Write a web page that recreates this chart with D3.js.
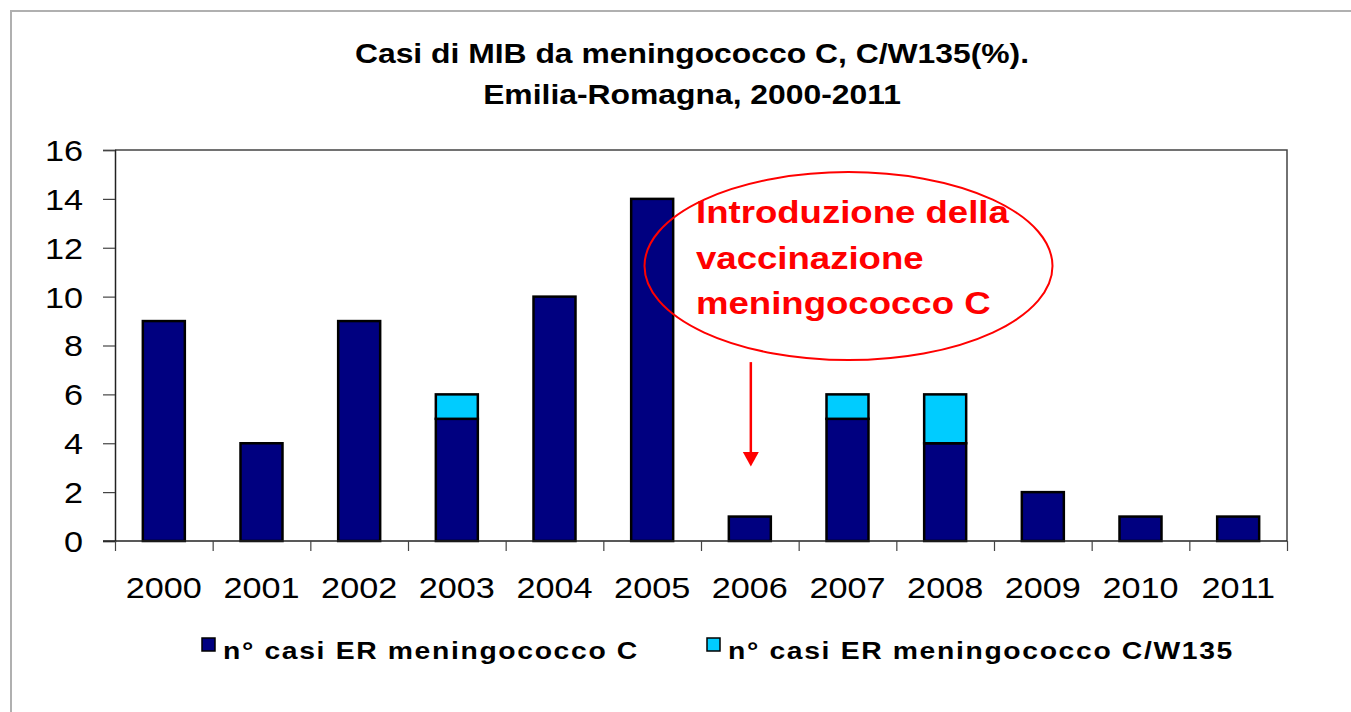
<!DOCTYPE html>
<html>
<head>
<meta charset="utf-8">
<script src="https://cdn.jsdelivr.net/npm/d3@7"></script>
<style>
  body { margin: 0; background: #fff; }
  text { font-family: "Liberation Sans", Arial, sans-serif; fill: #000; }
</style>
</head>
<body>
<div id="chart"></div>
<script>
// Casi di MIB da meningococco C, Emilia-Romagna 2000-2011

const years = ["2000", "2001", "2002", "2003", "2004", "2005", "2006", "2007", "2008", "2009", "2010", "2011"];
const casiC = [9, 4, 9, 5, 10, 14, 1, 5, 4, 2, 1, 1];
const casiCW135 = [0, 0, 0, 1, 0, 0, 0, 1, 2, 0, 0, 0];
const yTicks = [0, 2, 4, 6, 8, 10, 12, 14, 16];
const seriesNames = ["n° casi ER meningococco C", "n° casi ER meningococco C/W135"];
const titleLines = ["Casi di MIB da meningococco C, C/W135(%).", "Emilia-Romagna, 2000-2011"];
const noteLines = ["Introduzione della", "vaccinazione", "meningococco C"];

const W = 1351, H = 712;
const plot = { left: 115, right: 1287, top: 150, bottom: 541 };
const sx = 1.18; // fonts in the original are stretched horizontally
const colors = ["#000080", "#00CCFF"];

const svg = d3.select("#chart").append("svg")
    .attr("width", W)
    .attr("height", H);

// outer frame (only left and top edges visible)
svg.append("path")
    .attr("d", `M11,${H}V11H${W}`)
    .attr("fill", "none")
    .attr("stroke", "#b0b0b0")
    .attr("stroke-width", 2);

// scales
const x = d3.scaleBand()
    .domain(years)
    .range([plot.left, plot.right])
    .paddingInner(0.57)
    .paddingOuter(0.285);

const xEdge = d3.scaleLinear()
    .domain([0, years.length])
    .range([plot.left, plot.right]);

const y = d3.scaleLinear()
    .domain([0, 16])
    .range([plot.bottom, plot.top]);

// plot frame
svg.append("path")
    .attr("d", `M${plot.left},${plot.top}H${plot.right}V${plot.bottom}`)
    .attr("fill", "none")
    .attr("stroke", "#444")
    .attr("stroke-width", 1.5);

// stacked data
const stacked = years.map((yr, i) => ({
    year: yr,
    parts: [
        { y0: 0, y1: casiC[i], s: 0 },
        { y0: casiC[i], y1: casiC[i] + casiCW135[i], s: 1 }
    ].filter(p => p.y1 > p.y0)
}));

const barG = svg.append("g");
stacked.forEach(d => {
    barG.selectAll(null)
        .data(d.parts)
        .join("rect")
        .attr("x", x(d.year))
        .attr("y", p => y(p.y1))
        .attr("width", x.bandwidth())
        .attr("height", p => y(p.y0) - y(p.y1))
        .attr("fill", p => colors[p.s])
        .attr("stroke", "#000")
        .attr("stroke-width", 2.5);
});

// y axis
const yAxis = svg.append("g")
    .attr("transform", `translate(${plot.left},0)`)
    .call(d3.axisLeft(y).tickValues(yTicks).tickSize(12).tickFormat(d3.format("d")));
yAxis.select(".domain").attr("stroke", "#222").attr("stroke-width", 1.5);
yAxis.selectAll(".tick line").attr("stroke", "#444").attr("stroke-width", 1.2);
yAxis.selectAll(".tick text")
    .attr("x", -32 / sx)
    .attr("dy", "0.36em")
    .attr("transform", `scale(${sx},1)`)
    .style("font-size", "29px");

// x axis: boundary ticks
const xTickAxis = svg.append("g")
    .attr("transform", `translate(0,${plot.bottom})`)
    .call(d3.axisBottom(xEdge).tickValues(d3.range(years.length + 1)).tickSize(10).tickFormat(""));
xTickAxis.select(".domain").attr("stroke", "#222").attr("stroke-width", 1.5).attr("d", `M${plot.left - 12},0H${plot.right}`);
xTickAxis.selectAll(".tick line").attr("stroke", "#444").attr("stroke-width", 1.2);

// x axis: year labels
const xLabelAxis = svg.append("g")
    .attr("transform", `translate(0,${plot.bottom})`)
    .call(d3.axisBottom(x).tickSize(0).tickPadding(0));
xLabelAxis.select(".domain").remove();
xLabelAxis.selectAll(".tick text")
    .attr("y", 57)
    .attr("dy", 0)
    .attr("transform", `scale(${sx},1)`)
    .style("font-size", "29px");

// title
titleLines.forEach((t, i) => {
    svg.append("text")
        .attr("transform", `translate(${692},${63 + i * 41}) scale(${sx},1)`)
        .attr("text-anchor", "middle")
        .style("font-size", "27px")
        .style("font-weight", "bold")
        .text(t);
});

// legend
const legendX = [202, 707];
seriesNames.forEach((name, i) => {
    const g = svg.append("g").attr("transform", `translate(${legendX[i]},638)`);
    g.append("rect")
        .attr("width", 13)
        .attr("height", 13)
        .attr("fill", colors[i])
        .attr("stroke", "#000")
        .attr("stroke-width", 1.5);
    g.append("text")
        .attr("transform", `translate(21,21) scale(${sx},1)`)
        .style("font-size", "24px")
        .style("font-weight", "bold")
        .style("letter-spacing", "1.4px")
        .text(name);
});

// annotation: ellipse, text, arrow
const cxNote = x("2007") + x.bandwidth() / 2;
svg.append("ellipse")
    .attr("cx", cxNote + 1)
    .attr("cy", y(11.25))
    .attr("rx", 204)
    .attr("ry", 94)
    .attr("fill", "none")
    .attr("stroke", "#FF0000")
    .attr("stroke-width", 2);

noteLines.forEach((t, i) => {
    svg.append("text")
        .attr("transform", `translate(696,${223 + i * 45.5}) scale(${sx},1)`)
        .style("font-size", "31px")
        .style("font-weight", "bold")
        .style("fill", "#FF0000")
        .text(t);
});

const ax = x("2006") + x.bandwidth() / 2 + 1;
svg.append("line")
    .attr("x1", ax).attr("x2", ax)
    .attr("y1", y(7.32)).attr("y2", y(3.6))
    .attr("stroke", "#FF0000")
    .attr("stroke-width", 2.5);
svg.append("path")
    .attr("d", `M${ax - 8},${y(3.6) - 1}L${ax + 8},${y(3.6) - 1}L${ax},${y(3.05)}Z`)
    .attr("fill", "#FF0000");
</script>
</body>
</html>
